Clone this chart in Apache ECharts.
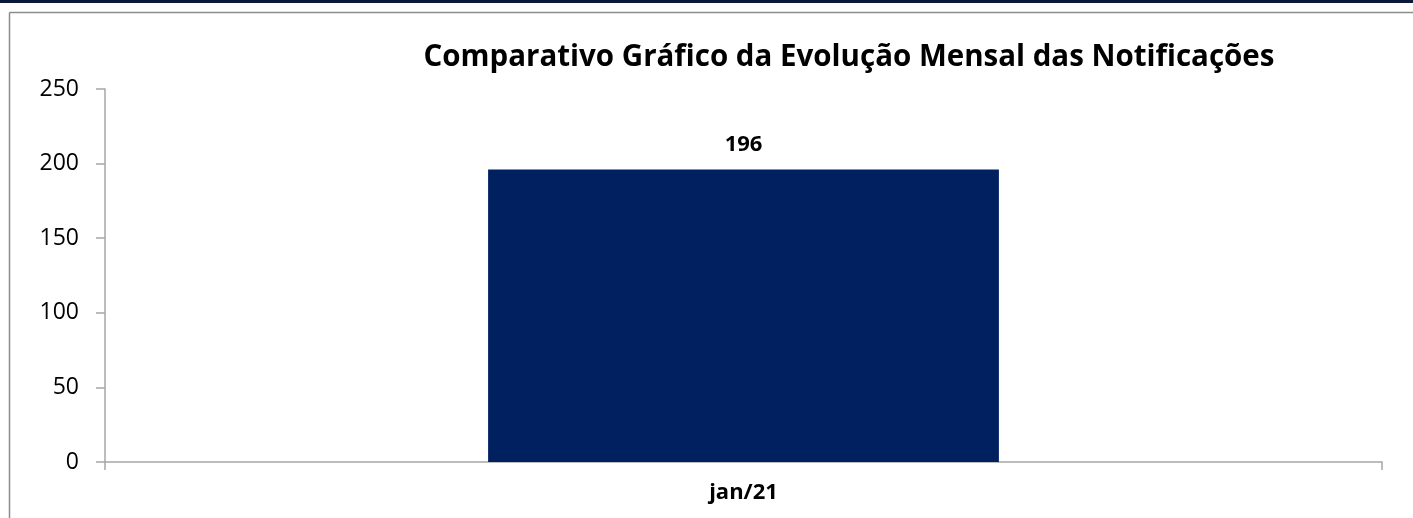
<!DOCTYPE html>
<html>
<head>
<meta charset="utf-8">
<script src="https://cdn.jsdelivr.net/npm/echarts@6/dist/echarts.min.js"></script>
<style>
  html, body { margin: 0; padding: 0; background: #fff; }
  #chart { width: 1413px; height: 518px; }
</style>
</head>
<body>
<div id="chart"></div>
<script>
  // dados do gráfico
  const meses = ['jan/21'];
  const notificacoes = [196];
  const yMin = 0, yMax = 250, yPasso = 50;

  const fonte = '"Open Sans", sans-serif';
  const chart = echarts.init(document.getElementById('chart'));

  chart.setOption({
    animation: false,
    title: {
      text: 'Comparativo Gráfico da Evolução Mensal das Notificações',
      left: 844, top: 38, textAlign: 'center',
      textStyle: { fontFamily: fonte, fontSize: 29.5, fontWeight: 'bold', color: '#000' }
    },
    grid: { left: 105, right: 31, top: 89, bottom: 56 },
    xAxis: {
      type: 'category',
      data: meses,
      axisLine: { lineStyle: { color: '#a6a6a6', width: 1.5 } },
      axisTick: { show: true, length: 8, lineStyle: { color: '#a6a6a6', width: 1.5 } },
      axisLabel: { fontFamily: fonte, fontSize: 22, fontWeight: 'bold', color: '#000', margin: 20 }
    },
    yAxis: {
      type: 'value',
      min: yMin, max: yMax, interval: yPasso,
      splitLine: { show: false },
      axisLine: { show: true, lineStyle: { color: '#a6a6a6', width: 1.5 } },
      axisTick: { show: true, length: 9, lineStyle: { color: '#a6a6a6', width: 1.5 } },
      axisLabel: { fontFamily: fonte, fontSize: 23, color: '#000', margin: 26 }
    },
    series: [{
      type: 'bar',
      data: notificacoes,
      barWidth: '40%',
      itemStyle: { color: '#002060' },
      label: {
        show: true, position: 'top', distance: 14,
        fontFamily: fonte, fontSize: 22, fontWeight: 'bold', color: '#000'
      }
    }],
    graphic: [
      { type: 'rect', shape: { x: 0, y: 0, width: 1413, height: 3 }, style: { fill: '#0b1a3a' } },
      { type: 'line', shape: { x1: 9.5, y1: 12.5, x2: 1413, y2: 12.5 }, style: { stroke: '#8c8c8c', lineWidth: 1.5 } },
      { type: 'line', shape: { x1: 9.5, y1: 12.5, x2: 9.5, y2: 518 }, style: { stroke: '#8c8c8c', lineWidth: 1.5 } }
    ]
  });
</script>
</body>
</html>
